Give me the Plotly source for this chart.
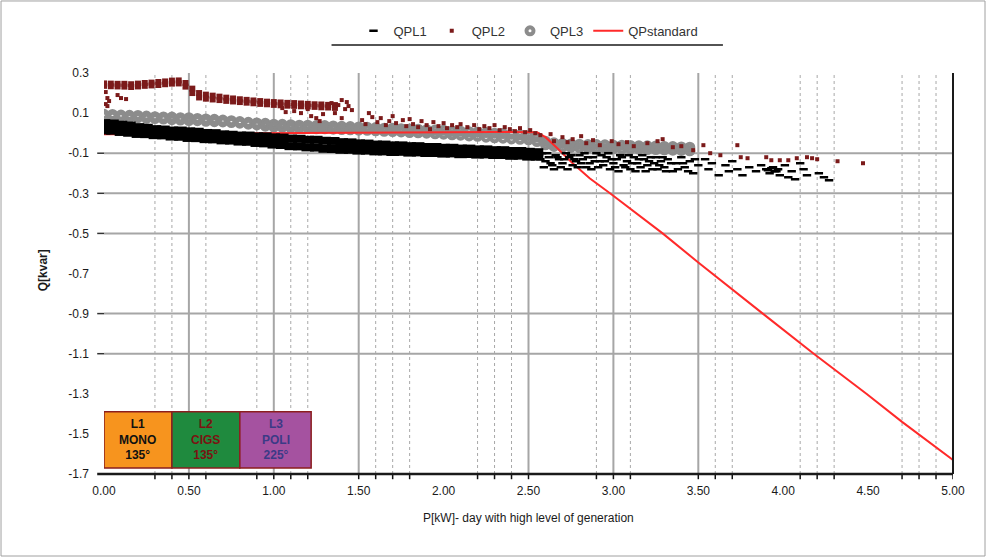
import plotly.graph_objects as go

# ---------------- axis ticks / labels ----------------
x_tick_vals = [0.0, 0.5, 1.0, 1.5, 2.0, 2.5, 3.0, 3.5, 4.0, 4.5, 5.0]
x_tick_text = ["0.00", "0.50", "1.00", "1.50", "2.00", "2.50", "3.00", "3.50", "4.00", "4.50", "5.00"]
y_tick_vals = [0.3, 0.1, -0.1, -0.3, -0.5, -0.7, -0.9, -1.1, -1.3, -1.5, -1.7]
y_tick_text = ["0.3", "0.1", "-0.1", "-0.3", "-0.5", "-0.7", "-0.9", "-1.1", "-1.3", "-1.5", "-1.7"]

grid_solid_x = [0.5, 1.0, 1.5, 2.5, 3.0, 3.5]
grid_dash_x = [0.3, 0.4, 0.6, 0.9, 1.1, 1.2, 1.6, 1.7, 1.8, 2.2, 2.3, 2.4, 2.9, 3.1,
               3.6, 3.7, 4.1, 4.2, 4.3, 4.7, 4.8, 4.9]
grid_solid_y = [-0.1, -0.3, -0.5, -0.9, -1.1]
x_tick_marks = grid_solid_x + grid_dash_x + [5.0]
y_tick_marks = [-0.1, -0.3, -0.5, -0.9, -1.1]

# ---------------- QPL1 (black) ----------------
qpl1_band_p = [0.00, 0.05, 0.10, 0.15, 0.20, 0.25, 0.30, 0.35, 0.40, 0.45,
               0.50, 0.55, 0.60, 0.65, 0.70, 0.75, 0.80, 0.85, 0.90, 0.95,
               1.00, 1.05, 1.10, 1.15, 1.20, 1.25, 1.30, 1.35, 1.40, 1.45,
               1.50, 1.55, 1.60, 1.65, 1.70, 1.75, 1.80, 1.85, 1.90, 1.95,
               2.00, 2.05, 2.10, 2.15, 2.20, 2.25, 2.30, 2.35, 2.40, 2.45,
               2.50, 2.55]
qpl1_band_q_upper = [0.050, 0.048, 0.042, 0.038, 0.030, 0.027, 0.020, 0.018, 0.013, 0.013,
                     0.009, 0.007, 0.001, 0.000, -0.006, -0.008, -0.012, -0.012, -0.016, -0.016,
                     -0.021, -0.022, -0.027, -0.028, -0.033, -0.033, -0.038, -0.039, -0.045, -0.046,
                     -0.051, -0.052, -0.057, -0.057, -0.061, -0.061, -0.065, -0.065, -0.069, -0.069,
                     -0.073, -0.073, -0.077, -0.077, -0.081, -0.081, -0.085, -0.085, -0.089, -0.089,
                     -0.093, -0.095]
qpl1_band_q_lower = [0.013, 0.012, 0.006, 0.002, -0.004, -0.005, -0.010, -0.011, -0.017, -0.018,
                     -0.024, -0.025, -0.030, -0.031, -0.036, -0.037, -0.042, -0.043, -0.049, -0.051,
                     -0.057, -0.059, -0.065, -0.066, -0.071, -0.072, -0.078, -0.079, -0.083, -0.083,
                     -0.087, -0.087, -0.091, -0.091, -0.094, -0.093, -0.097, -0.096, -0.099, -0.099,
                     -0.102, -0.101, -0.105, -0.104, -0.107, -0.106, -0.109, -0.109, -0.113, -0.112,
                     -0.117, -0.117]
qpl1_p = [2.57, 2.58, 2.59, 2.60, 2.61, 2.62, 2.63, 2.64, 2.65, 2.66, 2.67, 2.68, 2.69, 2.70,
          2.71, 2.72, 2.73, 2.74, 2.75, 2.76, 2.77, 2.78, 2.79, 2.80, 2.81, 2.82, 2.83, 2.84,
          2.85, 2.86, 2.87, 2.88, 2.89, 2.90, 2.91, 2.92, 2.93, 2.94, 2.95, 2.96, 2.97, 2.98,
          2.99, 3.00, 3.01, 3.02, 3.03, 3.04, 3.05, 3.06, 3.07, 3.08, 3.09, 3.10, 3.11, 3.12,
          3.13, 3.14, 3.15, 3.16, 3.17, 3.18, 3.19, 3.20, 3.21, 3.22, 3.23, 3.24, 3.25, 3.26,
          3.27, 3.28, 3.29, 3.30, 3.31, 3.32, 3.34, 3.35, 3.37, 3.38, 3.40, 3.41, 3.42, 3.44,
          3.45, 3.47, 3.48, 3.50, 3.54, 3.56, 3.58, 3.62, 3.66, 3.68, 3.70, 3.73, 3.76, 3.80,
          3.84, 3.87, 3.90, 3.91, 3.92, 3.93, 3.94, 3.95, 3.96, 3.97, 3.98, 4.01, 4.03, 4.05,
          4.07, 4.10, 4.12, 4.14, 4.21, 4.24, 4.27]
qpl1_q = [-0.13, -0.10, -0.17, -0.14, -0.10, -0.12, -0.15, -0.16, -0.18, -0.11, -0.12, -0.13, -0.17, -0.15,
          -0.13, -0.10, -0.18, -0.12, -0.11, -0.16, -0.13, -0.14, -0.17, -0.11, -0.15, -0.13, -0.10, -0.17,
          -0.12, -0.15, -0.18, -0.12, -0.14, -0.10, -0.17, -0.14, -0.11, -0.16, -0.14, -0.12, -0.10, -0.18,
          -0.13, -0.15, -0.17, -0.13, -0.19, -0.11, -0.12, -0.16, -0.17, -0.14, -0.11, -0.18, -0.15, -0.12,
          -0.19, -0.15, -0.13, -0.17, -0.11, -0.13, -0.19, -0.16, -0.14, -0.12, -0.18, -0.15, -0.12, -0.18,
          -0.16, -0.14, -0.12, -0.17, -0.19, -0.13, -0.15, -0.19, -0.15, -0.18, -0.12, -0.15, -0.17, -0.19,
          -0.14, -0.20, -0.13, -0.16, -0.13, -0.18, -0.15, -0.21, -0.16, -0.19, -0.14, -0.18, -0.21, -0.17,
          -0.19, -0.16, -0.18, -0.185, -0.20, -0.175, -0.17, -0.19, -0.19, -0.18, -0.21, -0.16, -0.22, -0.19,
          -0.23, -0.15, -0.18, -0.21, -0.20, -0.22, -0.235]

# ---------------- QPL2 (dark red) ----------------
qpl2_band_p = [0.00, 0.04, 0.08, 0.12, 0.16, 0.20, 0.24, 0.28, 0.32, 0.36, 0.40, 0.44,
               0.48, 0.52, 0.56, 0.60, 0.64, 0.68, 0.72, 0.76, 0.80, 0.84, 0.88, 0.92,
               0.96, 1.00, 1.04, 1.08, 1.12, 1.16, 1.20, 1.24, 1.28, 1.32, 1.36]
qpl2_band_q_upper = [0.248, 0.247, 0.246, 0.246, 0.244, 0.247, 0.250, 0.252, 0.255, 0.258, 0.262, 0.263,
                     0.250, 0.222, 0.200, 0.192, 0.187, 0.182, 0.177, 0.173, 0.169, 0.166, 0.163, 0.160,
                     0.157, 0.155, 0.153, 0.151, 0.150, 0.148, 0.146, 0.144, 0.143, 0.141, 0.140]
qpl2_band_q_lower = [0.236, 0.234, 0.233, 0.232, 0.230, 0.233, 0.236, 0.238, 0.240, 0.244, 0.247, 0.248,
                     0.232, 0.200, 0.178, 0.172, 0.168, 0.165, 0.161, 0.158, 0.155, 0.152, 0.149, 0.146,
                     0.144, 0.141, 0.139, 0.137, 0.136, 0.134, 0.133, 0.131, 0.129, 0.128, 0.126]
qpl2_p = [0.01, 0.02, 0.01, 0.03, 0.02, 0.08, 0.10, 0.13,
          1.05, 1.07, 1.12, 1.16, 1.20, 1.22, 1.25, 1.27, 1.29,
          1.34, 1.36, 1.38, 1.40, 1.40, 1.42, 1.43, 1.44, 1.46,
          1.52, 1.54, 1.56, 1.58, 1.61, 1.63, 1.66, 1.68, 1.70, 1.72,
          1.76, 1.78, 1.80, 1.82, 1.85, 1.87, 1.90, 1.92, 1.94, 1.97, 2.00, 2.02, 2.05, 2.08, 2.10,
          2.14, 2.18, 2.21, 2.24, 2.27, 2.30, 2.33, 2.36, 2.39, 2.42, 2.45, 2.48, 2.51, 2.54, 2.57,
          2.63, 2.65, 2.70, 2.73, 2.76, 2.81, 2.84, 2.88, 2.92, 2.99, 3.03, 3.08, 3.12,
          3.20, 3.26, 3.29, 3.35, 3.40, 3.47, 3.53, 3.57, 3.63, 3.73, 3.75, 3.79, 3.90, 3.93,
          3.98, 4.03, 4.08, 4.14, 4.17, 4.20, 4.32, 4.47]
qpl2_q = [0.205, 0.175, 0.145, 0.160, 0.135, 0.190, 0.175, 0.170,
          0.125, 0.105, 0.110, 0.100, 0.120, 0.085, 0.075, 0.060, 0.095,
          0.150, 0.100, 0.140, 0.075, 0.165, 0.120, 0.155, 0.135, 0.115,
          0.065, 0.045, 0.100, 0.080, 0.055, 0.075, 0.040, 0.060, 0.085, 0.050,
          0.065, 0.035, 0.070, 0.045, 0.030, 0.060, 0.040, 0.020, 0.055, 0.035, 0.050, 0.025, 0.040, 0.030, 0.045,
          0.030, 0.040, 0.020, 0.035, 0.025, 0.040, 0.015, 0.030, 0.020, 0.010, 0.025, 0.005, 0.015, 0.000, -0.010,
          -0.005, -0.040, -0.020, -0.045, -0.030, -0.015, -0.050, -0.035, -0.060, -0.040, -0.055, -0.045, -0.065,
          -0.050, -0.040, -0.030, -0.070, -0.065, -0.085, -0.060, -0.100, -0.110, -0.060, -0.120, -0.125, -0.120, -0.135,
          -0.135, -0.135, -0.125, -0.120, -0.125, -0.130, -0.140, -0.150]

# ---------------- QPL3 (gray) ----------------
qpl3_p = [0.00, 0.05, 0.10, 0.15, 0.20, 0.25, 0.30, 0.35, 0.40, 0.45,
          0.50, 0.55, 0.60, 0.65, 0.70, 0.75, 0.80, 0.85, 0.90, 0.95,
          1.00, 1.05, 1.10, 1.15, 1.20, 1.25, 1.30, 1.35, 1.40, 1.45,
          1.50, 1.55, 1.60, 1.65, 1.70, 1.75, 1.80, 1.85, 1.90, 1.95,
          2.00, 2.05, 2.10, 2.15, 2.20, 2.25, 2.30, 2.35, 2.40, 2.45,
          2.50, 2.55, 2.60, 2.65, 2.70, 2.75, 2.80, 2.85, 2.90, 2.95,
          3.00, 3.05, 3.10, 3.15, 3.20, 3.25, 3.30, 3.35, 3.40, 3.45]
qpl3_q_upper = [0.094, 0.093, 0.090, 0.089, 0.088, 0.085, 0.082, 0.081, 0.080, 0.077,
                0.077, 0.073, 0.071, 0.069, 0.065, 0.062, 0.058, 0.054, 0.051, 0.049,
                0.045, 0.044, 0.042, 0.040, 0.040, 0.038, 0.038, 0.036, 0.034, 0.033,
                0.031, 0.030, 0.028, 0.025, 0.025, 0.022, 0.021, 0.020, 0.017, 0.016,
                0.014, 0.011, 0.010, 0.007, 0.006, 0.003, 0.000, -0.002, -0.006, -0.008,
                -0.012, -0.020, -0.040, -0.048, -0.051, -0.054, -0.055, -0.057, -0.057, -0.058,
                -0.060, -0.060, -0.061, -0.063, -0.063, -0.064, -0.066, -0.067, -0.069, -0.070]
qpl3_q_lower = [0.086, 0.084, 0.082, 0.078, 0.077, 0.074, 0.073, 0.070, 0.067, 0.065,
                0.063, 0.062, 0.059, 0.057, 0.056, 0.053, 0.050, 0.045, 0.041, 0.035,
                0.030, 0.029, 0.027, 0.024, 0.024, 0.022, 0.022, 0.020, 0.018, 0.017,
                0.015, 0.014, 0.012, 0.009, 0.008, 0.006, 0.003, 0.002, 0.000, -0.003,
                -0.005, -0.008, -0.010, -0.014, -0.016, -0.020, -0.023, -0.025, -0.029, -0.031,
                -0.033, -0.042, -0.058, -0.066, -0.070, -0.071, -0.073, -0.074, -0.076, -0.076,
                -0.077, -0.079, -0.079, -0.080, -0.082, -0.082, -0.083, -0.085, -0.086, -0.088]

# ---------------- QPstandard (red line) ----------------
qstd_p = [0.00, 0.10, 0.30, 0.60, 1.00, 1.30, 1.60, 2.00, 2.30, 2.55, 2.60, 2.67, 2.76, 2.86,
          2.98, 3.29, 3.50, 3.88, 4.18, 4.49, 4.70, 5.00]
qstd_q = [-0.006, -0.006, -0.004, -0.002, 0.000, 0.002, 0.003, 0.005, 0.006, 0.004, -0.020, -0.075,
          -0.150, -0.225, -0.300, -0.500, -0.645, -0.900, -1.100, -1.300, -1.440, -1.630]

# ---------------- module boxes ----------------
box_text = ["<b>L1<br>MONO<br>135°</b>", "<b>L2<br>CIGS<br>135°</b>", "<b>L3<br>POLI<br>225°</b>"]
box_p_start = [0.0, 0.4, 0.8]
box_p_end = [0.4, 0.8, 1.22]
box_q_bottom = -1.67
box_q_top = -1.39
box_fill = ["#F7941E", "#1F8A3E", "#A552A0"]
box_text_color = ["#111111", "#7A1212", "#3C3A86"]

C_QPL1 = "#000000"
C_QPL2 = "#7B1A1A"
C_QPL3 = "#8C8C8C"
C_STD = "#FF2A2A"

fig = go.Figure()

# gray band (QPL3)
fig.add_trace(go.Scatter(
    x=qpl3_p + qpl3_p, y=qpl3_q_upper + qpl3_q_lower, mode="markers", name="QPL3",
    marker=dict(symbol="circle-open", size=7, color=C_QPL3, line=dict(width=4, color=C_QPL3)),
    legendrank=3, hoverinfo="skip"))

# standard line
fig.add_trace(go.Scatter(
    x=qstd_p, y=qstd_q, mode="lines", name="QPstandard",
    line=dict(color=C_STD, width=2), legendrank=4, hoverinfo="skip"))

# black band (QPL1) – not in legend
fig.add_trace(go.Scatter(
    x=qpl1_band_p + qpl1_band_p, y=qpl1_band_q_upper + qpl1_band_q_lower, mode="markers",
    name="QPL1", legendgroup="qpl1", showlegend=False,
    marker=dict(symbol="line-ew", size=9, color=C_QPL1, line=dict(width=8, color=C_QPL1)),
    hoverinfo="skip"))
fig.add_trace(go.Scatter(
    x=qpl1_p, y=qpl1_q, mode="markers", name="QPL1", legendgroup="qpl1",
    marker=dict(symbol="line-ew", size=6, color=C_QPL1, line=dict(width=2.5, color=C_QPL1)),
    legendrank=1, hoverinfo="skip"))

# dark red (QPL2)
fig.add_trace(go.Scatter(
    x=qpl2_band_p + qpl2_band_p, y=qpl2_band_q_upper + qpl2_band_q_lower, mode="markers",
    name="QPL2", legendgroup="qpl2", showlegend=False,
    marker=dict(symbol="square", size=6, color=C_QPL2, line=dict(width=0)),
    hoverinfo="skip"))
fig.add_trace(go.Scatter(
    x=qpl2_p, y=qpl2_q, mode="markers", name="QPL2", legendgroup="qpl2",
    marker=dict(symbol="square", size=4, color=C_QPL2, line=dict(width=0)),
    legendrank=2, hoverinfo="skip"))

shapes = []
# grid lines
for v in grid_dash_x:
    shapes.append(dict(type="line", xref="x", yref="y", x0=v, x1=v, y0=-1.7, y1=0.3, layer="below",
                       line=dict(color="#A8A8A8", width=1, dash="3px,3px")))
for v in grid_solid_x:
    shapes.append(dict(type="line", xref="x", yref="y", x0=v, x1=v, y0=-1.7, y1=0.3, layer="below",
                       line=dict(color="#A6A6A6", width=2)))
for v in grid_solid_y:
    shapes.append(dict(type="line", xref="x", yref="y", x0=0, x1=5, y0=v, y1=v, layer="below",
                       line=dict(color="#A6A6A6", width=2)))
# tick marks
for v in x_tick_marks:
    shapes.append(dict(type="line", xref="x", yref="paper", x0=v, x1=v, y0=0, y1=-0.013,
                       line=dict(color="#111111", width=1.5)))
for v in y_tick_marks:
    shapes.append(dict(type="line", xref="paper", yref="y", x0=-0.008, x1=0, y0=v, y1=v,
                       line=dict(color="#333333", width=1.5)))
# axis lines
shapes.append(dict(type="line", xref="paper", yref="paper", x0=-0.008, x1=1.0, y0=0, y1=0,
                   line=dict(color="#1A1A1A", width=2.5)))
shapes.append(dict(type="line", xref="paper", yref="paper", x0=1.0, x1=1.0, y0=0, y1=1,
                   line=dict(color="#1A1A1A", width=2)))
# legend underline
shapes.append(dict(type="line", xref="paper", yref="paper", x0=0.268, x1=0.729, y0=1.07, y1=1.07,
                   line=dict(color="#1A1A1A", width=1.5)))
# outer chart frame
shapes.append(dict(type="rect", xref="paper", yref="paper", x0=-0.1213, x1=1.0377, y0=-0.2045, y1=1.1796,
                   line=dict(color="#A0A0A0", width=1)))
# module boxes
for i in range(3):
    shapes.append(dict(type="rect", xref="x", yref="y", x0=box_p_start[i], x1=box_p_end[i],
                       y0=box_q_bottom, y1=box_q_top, fillcolor=box_fill[i],
                       line=dict(color="#8B1E1E", width=1.5), layer="above"))

annotations = []
for i in range(3):
    annotations.append(dict(x=(box_p_start[i] + box_p_end[i]) / 2, y=(box_q_bottom + box_q_top) / 2,
                            xref="x", yref="y", text=box_text[i], showarrow=False,
                            font=dict(size=12, color=box_text_color[i], family="Arial")))
annotations.append(dict(x=0.5, y=-0.132, xref="paper", yref="paper", showarrow=False,
                        text="P[kW]- day with high level of generation",
                        font=dict(size=12, color="#1A1A1A")))
annotations.append(dict(x=-0.082, y=0.509, xref="paper", yref="paper", showarrow=False,
                        text="<b>Q[kvar]</b>", textangle=-90,
                        font=dict(size=12, color="#1A1A1A")))

fig.update_layout(
    width=987, height=560,
    margin=dict(l=104, r=34, t=73, b=86),
    paper_bgcolor="white", plot_bgcolor="white",
    font=dict(family="Arial, Liberation Sans, sans-serif", size=12, color="#1A1A1A"),
    legend=dict(orientation="h", x=0.5, xanchor="center", y=1.105, yanchor="middle",
                font=dict(size=13, color="#333333"), bgcolor="rgba(0,0,0,0)"),
    xaxis=dict(range=[0, 5], tickvals=x_tick_vals, ticktext=x_tick_text, ticks="",
               showgrid=False, zeroline=False, showline=False, ticklabelstandoff=8,
               tickfont=dict(size=12, color="#1A1A1A")),
    yaxis=dict(range=[-1.7, 0.3], tickvals=y_tick_vals, ticktext=y_tick_text, ticks="",
               showgrid=False, zeroline=False, showline=False, ticklabelstandoff=14,
               tickfont=dict(size=12, color="#1A1A1A")),
    shapes=shapes, annotations=annotations,
)

fig.write_html("out.html")
